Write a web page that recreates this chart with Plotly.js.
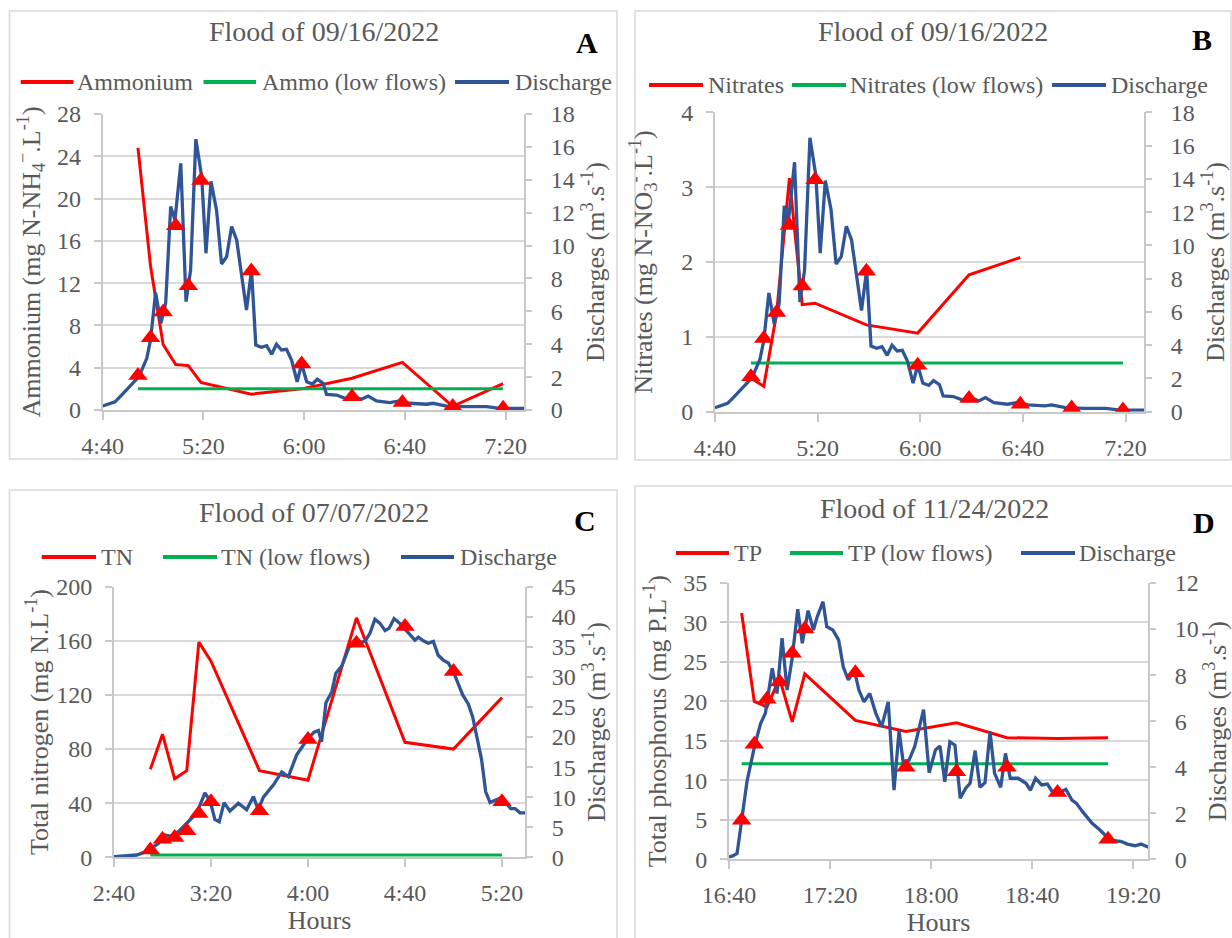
<!DOCTYPE html>
<html><head><meta charset="utf-8">
<script src="https://cdn.plot.ly/plotly-3.0.1.min.js"></script>
<style>html,body{margin:0;padding:0;background:#fff}#chart{width:1232px;height:938px}</style>
</head><body><div id="chart"></div>
<script>
// ---------- DATA ----------
// Panels A & B : flood of 09/16/2022 (start of time axis 4:40)
const dayAB = '2022-09-16';
const sampleTimesAB = ['04:54','04:59','05:04','05:09','05:14','05:19','05:39','05:59','06:19','06:39','06:59','07:19'];
const ammonium = [24.8, 13.6, 6.2, 4.3, 4.2, 2.6, 1.5, 2.0, 3.0, 4.5, 0.35, 2.5];
const ammoniumLow = 2.0;
const nitrates = [0.45, 0.34, 1.31, 3.12, 1.43, 1.45, 1.16, 1.05, 1.83, 2.06];
const nitratesLow = 0.65;
const sampleQAB = [2.1, 4.4, 5.96, 11.2, 7.56, 13.95, 8.45, 2.8, 0.8, 0.45, 0.22, 0.1];
// discharge: minutes after 4:40, m3/s
const qMinAB = [0,4.9,7.5,11.5,14.4,17.5,19,21,23.1,25,27,28.7,31,33.1,34.9,37,39.3,41,43,45.2,47.2,49.2,51.2,53.2,57.1,59.1,60.8,63,65.1,67.1,69,71,73,75,77.2,79,81,83.3,85.2,87.5,88.9,92.9,96.2,100.1,102.8,105.4,108.7,114,118,121.9,128.6,131.2,136.5,144.4,152.4,157.7,167.6];
const qAB = [0.24,0.5,0.91,1.52,2.03,3.14,4.26,7.14,5.27,6.49,12.37,11.56,15.0,6.59,8.5,16.47,14.2,9.53,13.9,12.17,8.88,9.32,11.15,10.34,6.08,8.5,3.95,3.81,3.91,3.39,4.0,3.65,3.69,3.04,1.72,2.8,1.72,1.58,1.87,1.62,0.95,0.91,0.71,0.81,0.65,0.85,0.55,0.45,0.55,0.41,0.35,0.41,0.24,0.2,0.2,0.1,0.1];

// Panel C : flood of 07/07/2022 (start 2:40)
const dayC = '2022-07-07';
const sampleTimesC = ['02:55','03:00','03:05','03:10','03:15','03:20','03:40','04:00','04:20','04:40','05:00','05:20'];
const totalN = [65, 91, 58, 64, 159, 145, 64, 57, 177, 85, 80, 118];
const totalNLow = 1.7;
const sampleQC = [1.2, 3.0, 3.3, 4.4, 7.3, 9.25, 7.75, 19.6, 35.6, 38.4, 30.9, 9.25];
const qMinC = [0,5.2,9.4,12.1,14.8,18.3,21,23.8,27.2,31.3,34.1,37.5,39.6,41.6,43.4,45.4,47.8,51.3,54.7,57.5,59.5,61.6,65.7,69.2,71.9,75.3,79.5,82.5,84.3,85.6,87.4,89.8,91.5,93.9,97,99.4,103.5,105.6,107.6,109.7,111.8,113.5,115.5,117.9,120.4,122.1,124.1,125.5,127.6,129.6,131.7,133.7,135.8,137.9,139.9,141.6,143.8,146.1,147.9,149.6,151.6,153.3,155.1,157.1,159.2,161.2,163.6,165.4,167.4,169.5];
const qC = [0.1,0.2,0.38,0.77,1.33,2.3,3.7,3.5,4.5,6.2,7.3,10.7,9.4,6.3,5.9,9.1,7.7,9.0,7.9,10.1,7.9,10.0,12.0,14.2,13.4,17.0,19.5,20.8,21.1,19.2,25.7,27.5,30.6,31.8,35.0,35.6,35.9,37.3,39.6,38.9,37.7,38.1,39.7,38.9,37.8,37.0,36.1,36.6,36.0,35.6,35.9,33.6,32.8,32.3,30.9,29.2,27.0,25.5,23.4,20.1,16.2,10.9,9.1,9.5,9.8,9.25,8.1,8.1,7.4,7.4];

// Panel D : flood of 11/24/2022 (start 16:40)
const dayD = '2022-11-24';
const sampleTimesD = ['16:45','16:50','16:55','17:00','17:05','17:10','17:30','17:50','18:10','18:30','18:50','19:10'];
const totalP = [31.2, 20.0, 19.3, 22.9, 17.4, 23.5, 17.6, 16.2, 17.3, 15.4, 15.3, 15.4];
const totalPLow = 12.1;
const sampleQD = [1.7, 5.0, 6.95, 7.7, 8.95, 10.0, 8.1, 4.0, 3.8, 4.0, 2.9, 0.87];
const qMinD = [0,1.5,3.2,5,7.1,10.2,12.5,14.4,17.1,19.0,21.0,23.0,24.9,27.2,29.0,31.3,33.4,34.9,37.2,38.7,41.1,43.4,45.2,47.2,49.6,51.4,53.4,55.7,58.1,60.4,63.0,65.3,67.3,68.9,71.2,73.5,77.0,79.2,81.7,83.5,85.4,87.4,89.4,91.5,93.6,95.4,97.4,99.3,101.3,103.3,105.1,107.5,109.4,111.3,114.4,117.5,119.3,121.3,123.7,126.0,128.3,130.6,133.3,135.7,137.5,139.9,143.7,146.8,150.7,155.3,157.6,160.7,163,166];
const qD = [0.1,0.15,0.25,1.7,3.37,4.96,5.9,6.34,8.3,7.2,9.6,7.35,8.65,10.86,9.38,10.8,9.96,10.53,11.19,10.1,9.96,9.52,8.36,7.79,8.2,7.35,6.84,7.2,6.34,5.76,6.84,3.0,5.6,4.24,4.3,4.9,6.5,3.76,4.75,4.92,3.37,5.1,4.96,2.65,3.08,3.3,4.72,3.13,3.33,5.54,3.73,3.13,4.6,3.52,3.52,3.3,3.0,3.52,3.23,3.27,2.87,2.9,3.04,2.57,2.43,2.07,1.56,1.27,0.84,0.77,0.66,0.59,0.66,0.52];

// ---------- HELPERS ----------
const pad = n => String(n).padStart(2, '0');
function stamp(day, startMin, m) {
  const s = Math.round((startMin + m) * 60);
  return day + ' ' + pad(Math.floor(s / 3600)) + ':' + pad(Math.floor((s % 3600) / 60)) + ':' + pad(s % 60);
}
const clock = (day, arr) => arr.map(t => day + ' ' + t + ':00');

const FONT = '"Liberation Serif", "Times New Roman", Times, serif';
const GRAY = '#595959';
const RED = '#ff0000', GREEN = '#00b050', BLUE = '#2f5597';
const W = 1232, H = 938;
const px = v => v / W, py = v => 1 - v / H;

const traces = [];
function panel(xa, ya, ya2, day, sTimes, conc, low, sQ, qMin, qVals, startMin, names) {
  const sx = clock(day, sTimes);
  traces.push({x: sx.slice(0, conc.length), y: conc, xaxis: xa, yaxis: ya, mode: 'lines',
    line: {color: RED, width: 3}, name: names[0], showlegend: false});
  traces.push({x: [sx[0], sx[sx.length - 1]], y: [low, low], xaxis: xa, yaxis: ya, mode: 'lines',
    line: {color: GREEN, width: 3}, name: names[1], showlegend: false});
  traces.push({x: qMin.map(m => stamp(day, startMin, m)), y: qVals, xaxis: xa, yaxis: ya2, mode: 'lines',
    line: {color: BLUE, width: 3.3}, name: 'Discharge', showlegend: false});
  traces.push({x: sx, y: sQ, xaxis: xa, yaxis: ya2, mode: 'markers',
    marker: {symbol: 'triangle-up', size: 17, color: RED}, name: 'Sampling', showlegend: false});
}
panel('x', 'y', 'y2', dayAB, sampleTimesAB, ammonium, ammoniumLow, sampleQAB, qMinAB, qAB, 280, ['Ammonium', 'Ammo (low flows)']);
panel('x2', 'y3', 'y4', dayAB, sampleTimesAB, nitrates, nitratesLow, sampleQAB, qMinAB, qAB, 280, ['Nitrates', 'Nitrates (low flows)']);
panel('x3', 'y5', 'y6', dayC, sampleTimesC, totalN, totalNLow, sampleQC, qMinC, qC, 160, ['TN', 'TN (low flows)']);
panel('x4', 'y7', 'y8', dayD, sampleTimesD, totalP, totalPLow, sampleQD, qMinD, qD, 1000, ['TP', 'TP (low flows)']);

const tickfont = {family: FONT, size: 24, color: GRAY};
const titlefont = {family: FONT, size: 26, color: GRAY};
function xAxis(dom, yanchor, day, startMin, endMin, title) {
  const a = {domain: dom, anchor: yanchor, type: 'date',
    range: [stamp(day, startMin, 0), stamp(day, startMin, endMin)],
    tick0: stamp(day, startMin, 0), dtick: 2400000, tickformat: '%-H:%M',
    ticks: 'outside', ticklen: 8, tickwidth: 2, tickcolor: '#c8c8c8',
    showline: true, linecolor: '#c8c8c8', linewidth: 2, showgrid: false, zeroline: false,
    tickfont: tickfont, ticklabelstandoff: 5, fixedrange: true};
  if (title) a.title = {text: title, font: titlefont, standoff: 6};
  return a;
}
function yAxis(dom, xanchor, max, dt, title) {
  return {domain: dom, anchor: xanchor, range: [0, max], dtick: dt, tick0: 0,
    ticks: 'outside', ticklen: 7, tickwidth: 2, tickcolor: '#c8c8c8',
    showline: true, linecolor: '#c8c8c8', linewidth: 2,
    showgrid: true, gridcolor: '#d9d9d9', gridwidth: 2, zeroline: false,
    tickfont: tickfont, ticklabelstandoff: 8, title: {text: title, font: titlefont}};
}
function y2Axis(over, xanchor, max, dt, title) {
  return {overlaying: over, side: 'right', anchor: xanchor, range: [0, max], dtick: dt, tick0: 0,
    ticks: 'outside', ticklen: 6, tickwidth: 2, tickcolor: '#c8c8c8',
    showline: true, linecolor: '#c8c8c8', linewidth: 2, showgrid: false, zeroline: false,
    tickfont: tickfont, ticklabelstandoff: 14, title: {text: title, font: titlefont}};
}
const qTitle = 'Discharges (m<sup>3</sup>.s<sup>-1</sup>)';

const layout = {
  width: W, height: H, margin: {l: 0, r: 0, t: 0, b: 0},
  paper_bgcolor: '#fff', plot_bgcolor: 'rgba(0,0,0,0)', showlegend: false,
  font: {family: FONT, color: GRAY, size: 24},
  xaxis: xAxis([px(102.7), px(524)], 'y', dayAB, 280, 167.3),
  yaxis: yAxis([py(410), py(114)], 'x', 28, 4, 'Ammonium (mg N-NH<sub>4</sub><sup>−</sup>.L<sup>-1</sup>)'),
  yaxis2: y2Axis('y', 'x', 18, 2, qTitle),
  xaxis2: xAxis([px(715), px(1144)], 'y3', dayAB, 280, 167.2),
  yaxis3: yAxis([py(411.7), py(112.3)], 'x2', 4, 1, 'Nitrates (mg N-NO<sub>3</sub><sup>-</sup>.L<sup>-1</sup>)'),
  yaxis4: y2Axis('y3', 'x2', 18, 2, qTitle),
  xaxis3: xAxis([px(114), px(525)], 'y5', dayC, 160, 169.5, 'Hours'),
  yaxis5: yAxis([py(857.3), py(586.7)], 'x3', 200, 40, 'Total nitrogen (mg N.L<sup>-1</sup>)'),
  yaxis6: y2Axis('y5', 'x3', 45, 5, qTitle),
  xaxis4: xAxis([px(729), px(1148)], 'y7', dayD, 1000, 165.8, 'Hours'),
  yaxis7: yAxis([py(859.3), py(583)], 'x4', 35, 5, 'Total phosphorus (mg P.L<sup>-1</sup>)'),
  yaxis8: y2Axis('y7', 'x4', 12, 2, qTitle),
  shapes: [], annotations: []
};

// panel frames
[[9.5, 11, 617, 459], [635, 11, 1231, 460], [9.5, 490, 617, 945], [635, 486, 1240, 945]].forEach(b => {
  layout.shapes.push({type: 'rect', xref: 'paper', yref: 'paper', x0: px(b[0]), x1: px(b[2]), y0: py(b[3]), y1: py(b[1]),
    line: {color: '#d9d9d9', width: 1.5}, fillcolor: 'rgba(0,0,0,0)', layer: 'below'});
});
// titles and letters
[['Flood of 09/16/2022', 324, 32, 'A', 587, 42], ['Flood of 09/16/2022', 933, 32, 'B', 1202, 40],
 ['Flood of 07/07/2022', 314, 512, 'C', 585, 520], ['Flood of 11/24/2022', 934, 508, 'D', 1204, 522]].forEach(t => {
  layout.annotations.push({xref: 'paper', yref: 'paper', x: px(t[1]), y: py(t[2]), text: t[0], showarrow: false,
    xanchor: 'center', yanchor: 'middle', font: {family: FONT, size: 28, color: GRAY}});
  layout.annotations.push({xref: 'paper', yref: 'paper', x: px(t[4]), y: py(t[5]), text: t[3], showarrow: false,
    xanchor: 'center', yanchor: 'middle', font: {family: FONT, size: 30, color: '#000', weight: 'bold'}});
});
// legends (line sample + label)
const legends = [
  [82, [[20.7, 73.5, 'Ammonium', 77, RED], [203.5, 256, 'Ammo (low flows)', 262, GREEN], [455, 509, 'Discharge', 515, BLUE]]],
  [85, [[649, 703, 'Nitrates', 708, RED], [792, 846, 'Nitrates (low flows)', 850, GREEN], [1052, 1106, 'Discharge', 1111, BLUE]]],
  [557, [[41.7, 96, 'TN', 101, RED], [163, 217, 'TN (low flows)', 221, GREEN], [401, 454, 'Discharge', 459.5, BLUE]]],
  [553, [[676, 729, 'TP', 734, RED], [790, 843, 'TP (low flows)', 848, GREEN], [1021, 1075, 'Discharge', 1079, BLUE]]]
];
legends.forEach(([yy, items]) => items.forEach(it => {
  layout.shapes.push({type: 'line', xref: 'paper', yref: 'paper', x0: px(it[0]), x1: px(it[1]), y0: py(yy), y1: py(yy),
    line: {color: it[4], width: 4}});
  layout.annotations.push({xref: 'paper', yref: 'paper', x: px(it[3] - 2), y: py(yy), text: it[2], showarrow: false,
    xanchor: 'left', yanchor: 'middle', font: {family: FONT, size: 24, color: GRAY}});
}));

Plotly.newPlot('chart', traces, layout, {displayModeBar: false, staticPlot: true});
</script></body></html>
